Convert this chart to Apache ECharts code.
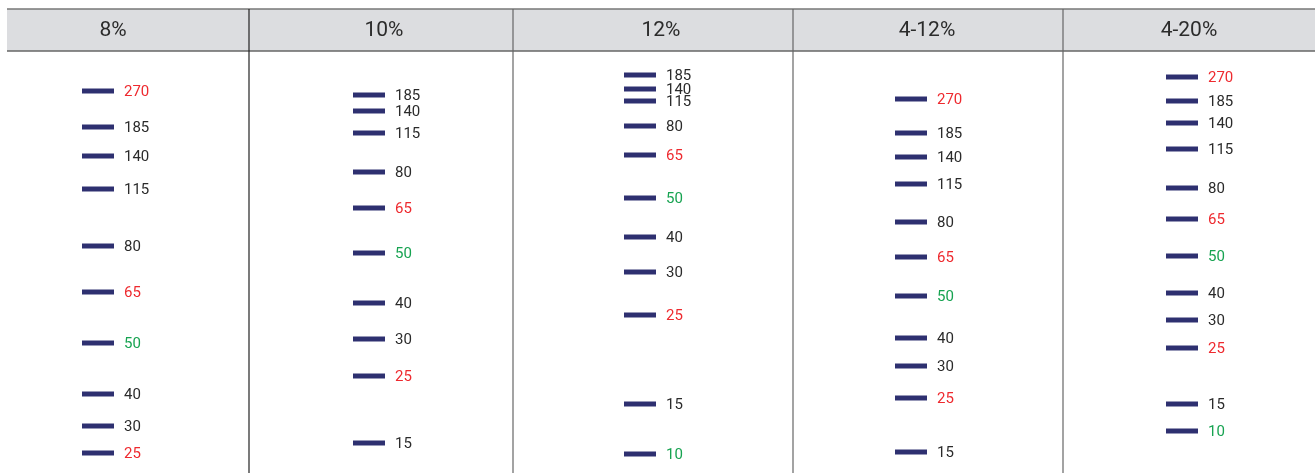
<!DOCTYPE html>
<html>
<head>
<meta charset="utf-8">
<style>
  html, body { margin: 0; padding: 0; background: #fff; }
  #main { width: 1315px; height: 473px; }
</style>
<script src="https://cdn.jsdelivr.net/npm/echarts@6/dist/echarts.min.js"></script>
</head>
<body>
<div id="main"></div>
<script>
// gel lanes
const lanes = ['8%', '10%', '12%', '4-12%', '4-20%']

// band sizes (kDa) per lane, top to bottom
const sizes8 = [270, 185, 140, 115, 80, 65, 50, 40, 30, 25]
const sizes10 = [185, 140, 115, 80, 65, 50, 40, 30, 25, 15]
const sizes12 = [185, 140, 115, 80, 65, 50, 40, 30, 25, 15, 10]
const sizes412 = [270, 185, 140, 115, 80, 65, 50, 40, 30, 25, 15]
const sizes420 = [270, 185, 140, 115, 80, 65, 50, 40, 30, 25, 15, 10]

// migration distance from the well (px)
const migr8 = [40, 76, 105, 138, 195, 241, 292, 343, 375, 402]
const migr10 = [44, 60, 82, 121, 157, 202, 252, 288, 325, 392]
const migr12 = [24, 38, 50, 75, 104, 147, 186, 221, 264, 353, 403]
const migr412 = [48, 82, 106, 133, 171, 206, 245, 287, 315, 347, 401]
const migr420 = [26, 50, 72, 98, 137, 168, 205, 242, 269, 297, 353, 380]

// reference bands are coloured
const redSizes = [270, 65, 25]
const greenSizes = [50, 10]

const laneSizes = [sizes8, sizes10, sizes12, sizes412, sizes420]
const laneMigr = [migr8, migr10, migr12, migr412, migr420]

function sizeColor(s) {
  if (redSizes.includes(s)) return '#ee2a2f'
  if (greenSizes.includes(s)) return '#17a351'
  return '#2b2b2b'
}

const data = []
laneSizes.forEach((arr, i) => {
  arr.forEach((s, j) => {
    data.push({
      value: [i, laneMigr[i][j], s],
      label: { color: sizeColor(s) }
    })
  })
})

const chart = echarts.init(document.getElementById('main'))

// header + column dividers
const dividers = [249, 513, 793, 1063]
const headerX = [113, 384, 661, 927, 1189]
const graphics = [
  { type: 'rect', shape: { x: 7, y: 9, width: 1308, height: 42 }, style: { fill: '#dcdde0' }, z: 0 },
  { type: 'line', shape: { x1: 7, y1: 9, x2: 1315, y2: 9 }, style: { stroke: '#777', lineWidth: 1.5 } },
  { type: 'line', shape: { x1: 7, y1: 51, x2: 1315, y2: 51 }, style: { stroke: '#666', lineWidth: 1.5 } }
]
dividers.forEach((x, i) => {
  graphics.push({ type: 'line', shape: { x1: x, y1: 9, x2: x, y2: 473 },
    style: { stroke: i === 0 ? '#222' : '#666', lineWidth: 1.2 } })
})
lanes.forEach((name, i) => {
  graphics.push({ type: 'text', x: headerX[i], y: 31,
    style: { text: name, fill: '#2b2b2b', font: '21px Roboto', align: 'center', verticalAlign: 'middle' } })
})

const option = {
  animation: false,
  grid: { left: 0, right: 0, top: 51, bottom: 0 },
  xAxis: {
    type: 'value',
    min: -98 / 271,
    max: (1315 - 98) / 271,
    show: false
  },
  yAxis: {
    type: 'value',
    inverse: true,
    min: 0,
    max: 422,
    show: false
  },
  graphic: graphics,
  series: [{
    type: 'scatter',
    symbol: 'rect',
    symbolSize: [32, 5],
    itemStyle: { color: '#2e3070', opacity: 1 },
    label: {
      show: true,
      position: 'right',
      distance: 10,
      offset: [0, 1],
      fontFamily: 'Roboto',
      fontSize: 15,
      formatter: p => p.value[2]
    },
    data: data
  }]
}
chart.setOption(option)
</script>
</body>
</html>
